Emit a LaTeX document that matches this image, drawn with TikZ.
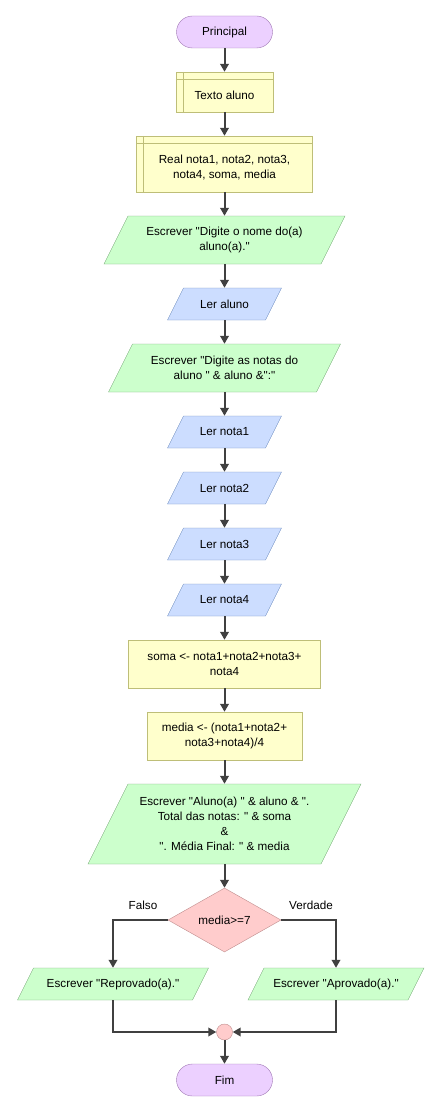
\documentclass[tikz,border=0pt]{standalone}
\usepackage{fontspec}
\setmainfont{Liberation Sans}[Ligatures=TeXOff]
\usetikzlibrary{arrows.meta,shapes.geometric}
\definecolor{termfill}{RGB}{236,208,255}
\definecolor{termdraw}{RGB}{160,120,180}
\definecolor{procfill}{RGB}{255,255,204}
\definecolor{procdraw}{RGB}{190,190,120}
\definecolor{iofill}{RGB}{204,255,204}
\definecolor{iodraw}{RGB}{120,170,120}
\definecolor{infill}{RGB}{204,221,255}
\definecolor{indraw}{RGB}{110,140,190}
\definecolor{decfill}{RGB}{255,204,204}
\definecolor{decdraw}{RGB}{190,140,140}
\definecolor{flowc}{RGB}{64,64,64}
% style, name, x, y, W, h, text
\newcommand{\slantbox}[7]{%
  \path[#1] (#3-#5/2-#6/4,#4+#6/2) -- ++(#5,0) -- ++(#6/2,-#6) -- ++(-#5,0) -- cycle;
  \node[txt, minimum width=#5pt, minimum height=#6pt] (#2) at (#3,#4) {#7};
}
% name, x, y, W, h, text
\newcommand{\storebox}[6]{%
  \node[proc, minimum width=#4pt, minimum height=#5pt] (#1) at (#2,#3) {};
  \draw[procdraw] ([xshift=7pt]#1.north west) -- ([xshift=7pt]#1.south west);
  \draw[procdraw] ([yshift=-7pt]#1.north west) -- ([yshift=-7pt]#1.north east);
  \node[txt] (#1T) at ([yshift=-3.5pt]#1.center) {#6};
}
\begin{document}
\begin{tikzpicture}[x=1pt,y=-1pt,
  txt/.style={inner sep=0pt, align=center, font=\fontsize{11.7}{15}\selectfont},
  term/.style={txt, draw=termdraw, fill=termfill, rounded corners=16pt, minimum width=96pt, minimum height=32pt},
  proc/.style={txt, draw=procdraw, fill=procfill},
  io/.style={draw=iodraw, fill=iofill},
  inp/.style={draw=indraw, fill=infill},
  dec/.style={txt, diamond, draw=decdraw, fill=decfill, minimum width=113pt, minimum height=64pt, aspect=1.77},
  merge/.style={circle, draw=decdraw, fill=decfill, minimum size=16pt, inner sep=0pt},
  flow/.style={draw=flowc, line width=2pt, -{Triangle[length=8pt,width=8.5pt]}},
]
\useasboundingbox (0,0) rectangle (441,1113);

\node[term] (ini) at (224.5,32) {Principal};
\storebox{texto}{224.5}{92}{97}{40}{Texto aluno}
\storebox{decl}{224.5}{164}{176}{56}{Real nota1, nota2, nota3,\\nota4, soma, media}
\slantbox{io}{e1}{224.5}{240}{217}{48}{Escrever "Digite o nome do(a)\\aluno(a)."}
\slantbox{inp}{r0}{224.5}{304}{98}{32}{Ler aluno}
\slantbox{io}{e2}{224.5}{368}{208}{48}{Escrever "Digite as notas do\\aluno " \& aluno \&":"}
\slantbox{inp}{r1}{224.5}{432}{98}{32}{Ler nota1}
\slantbox{inp}{r2}{224.5}{488}{98}{32}{Ler nota2}
\slantbox{inp}{r3}{224.5}{544}{98}{32}{Ler nota3}
\slantbox{inp}{r4}{224.5}{600}{98}{32}{Ler nota4}
\node[proc, minimum width=192pt, minimum height=48pt] (soma) at (224.5,664) {soma <- nota1+nota2+nota3+\\nota4};
\node[proc, minimum width=155pt, minimum height=48pt] (media) at (224.5,736) {media <- (nota1+nota2+\\nota3+nota4)/4};
\slantbox{io}{e3}{224.5}{824}{233}{80}{Escrever "Aluno(a) " \& aluno \& ".\\Total das notas: " \& soma\\\&\\". Média Final: " \& media}
\node[dec] (d) at (224.5,920) {media>=7};
\node[txt] (lf) at (143,905) {Falso};
\node[txt] (lv) at (311,905) {Verdade};
\slantbox{io}{rep}{113}{984}{175}{32}{Escrever "Reprovado(a)."}
\slantbox{io}{apr}{336}{984}{160}{32}{Escrever "Aprovado(a)."}
\node[merge] (m) at (224.5,1032) {};
\node[term] (fim) at (224.5,1080) {Fim};

\draw[flow] (ini) -- (texto);
\draw[flow] (texto) -- (decl);
\draw[flow] (decl) -- (e1);
\draw[flow] (e1) -- (r0);
\draw[flow] (r0) -- (e2);
\draw[flow] (e2) -- (r1);
\draw[flow] (r1) -- (r2);
\draw[flow] (r2) -- (r3);
\draw[flow] (r3) -- (r4);
\draw[flow] (r4) -- (soma);
\draw[flow] (soma) -- (media);
\draw[flow] (media) -- (e3);
\draw[flow] (e3) -- (d);
\draw[flow] (d.west) -| (rep.north);
\draw[flow] (d.east) -| (apr.north);
\draw[flow] (rep.south) |- (m.west);
\draw[flow] (apr.south) |- (m.east);
\draw[flow] (m) -- (fim);
\end{tikzpicture}
\end{document}
